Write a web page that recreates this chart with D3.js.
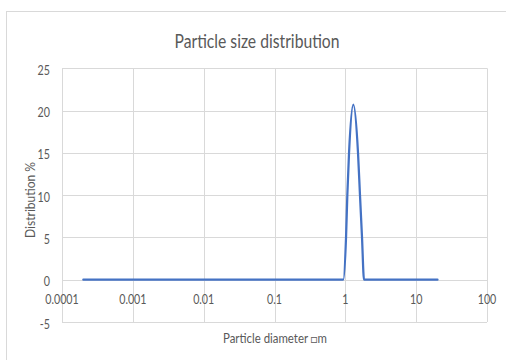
<!DOCTYPE html>
<html><head><meta charset="utf-8">
<script src="https://cdn.jsdelivr.net/npm/d3@7/dist/d3.min.js"></script>
<style>
html,body{margin:0;padding:0;background:#fff;}
text{font-family:Lato,"Open Sans",sans-serif;fill:#595959;}
</style></head>
<body><svg id="c" width="506" height="360"></svg>
<script>
const diameters = [0.0002, 0.937, 1.023, 1.067, 1.128, 1.297, 1.51, 1.61, 1.72, 1.835, 20];
const distribution = [0, 0, 5, 10, 15, 20.7, 15, 10, 5, 0, 0];
const xTicks = [0.0001, 0.001, 0.01, 0.1, 1, 10, 100];
const xTickLabels = ["0.0001", "0.001", "0.01", "0.1", "1", "10", "100"];
const yTicks = [-5, 0, 5, 10, 15, 20, 25];
const title = "Particle size distribution";
const xTitle = "Particle diameter \u25A1m";
const yTitle = "Distribution %";

(function() {
const svg = d3.select("#c");
const pL = 62, pR = 487, pT = 68.3, pB = 322;
const x = d3.scaleLog().domain([0.0001, 100]).range([pL, pR]);
const y = d3.scaleLinear().domain([-5, 25]).range([pB, pT]);

svg.append("rect").attr("x", 6.5).attr("y", 11.5).attr("width", 600).attr("height", 400)
  .attr("fill", "#fff").attr("stroke", "#d9d9d9").attr("stroke-width", 1);

function squeeze(sel, f) {
  sel.each(function() {
    const w = this.getComputedTextLength();
    d3.select(this).attr("textLength", w * f).attr("lengthAdjust", "spacingAndGlyphs");
  });
}

const g = svg.append("g");
g.selectAll("line.h").data(yTicks).enter().append("line")
  .attr("x1", pL).attr("x2", pR)
  .attr("y1", d => Math.round(y(d)) + 0.5).attr("y2", d => Math.round(y(d)) + 0.5)
  .attr("stroke", "#d9d9d9").attr("stroke-width", 1);
g.selectAll("line.v").data(xTicks).enter().append("line")
  .attr("y1", pT).attr("y2", pB)
  .attr("x1", d => Math.round(x(d)) + 0.5).attr("x2", d => Math.round(x(d)) + 0.5)
  .attr("stroke", "#d9d9d9").attr("stroke-width", 1);

const yl = svg.selectAll("text.yl").data(yTicks).enter().append("text")
  .attr("x", 50).attr("y", d => y(d) + 6.5).attr("text-anchor", "end")
  .attr("font-size", 13).text(d => d);
squeeze(yl, 0.82);

const xl = svg.selectAll("text.xl").data(xTicks).enter().append("text")
  .attr("x", d => x(d)).attr("y", y(0) + 24).attr("text-anchor", "middle")
  .attr("font-size", 13).text((d, i) => xTickLabels[i]);
squeeze(xl, 0.82);

const line = d3.line().x(d => x(d[0])).y(d => y(d[1])).curve(d3.curveMonotoneX);
svg.append("path").datum(diameters.map((d, i) => [d, distribution[i]]))
  .attr("d", line).attr("fill", "none").attr("stroke", "#4472C4")
  .attr("stroke-width", 2.25).attr("stroke-linejoin", "round").attr("stroke-linecap", "round");

svg.append("text").attr("x", 257).attr("y", 48).attr("text-anchor", "middle")
  .attr("font-size", 19.5).text(title)
  .attr("textLength", 165).attr("lengthAdjust", "spacingAndGlyphs");
svg.append("text").attr("x", 275).attr("y", 343).attr("text-anchor", "middle")
  .attr("font-size", 12.5).text(xTitle)
  .attr("textLength", 104).attr("lengthAdjust", "spacingAndGlyphs");
svg.append("text").attr("transform", "translate(35,200) rotate(-90)").attr("text-anchor", "middle")
  .attr("font-size", 13).text(yTitle)
  .attr("textLength", 76).attr("lengthAdjust", "spacingAndGlyphs");
})();
</script></body></html>
